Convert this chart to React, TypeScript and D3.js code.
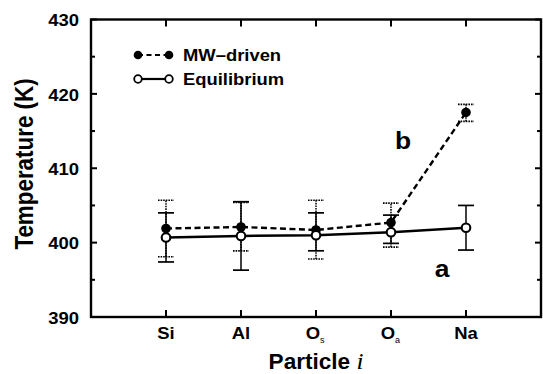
import React from "react";
import * as d3 from "d3";

const categories = ["Si", "Al", "O", "O", "Na"];
const catSubs = ["", "", "s", "a", ""];
const mwValues = [401.9, 402.1, 401.7, 402.7, 417.5];
const mwLow = [398.1, 398.9, 397.8, 399.4, 416.3];
const mwHigh = [405.7, 405.4, 405.7, 405.3, 418.6];
const eqValues = [400.7, 400.9, 401.0, 401.4, 402.0];
const eqLow = [397.4, 396.3, 398.9, 399.9, 399.0];
const eqHigh = [404.0, 405.5, 404.0, 403.7, 405.0];
const yMajor = [390, 400, 410, 420, 430];
const yMinor = [395, 405, 415, 425];

const W = 543;
const H = 374;
const FONT = "'Liberation Sans', Arial, Helvetica, sans-serif";

export default function App() {
  const x = d3.scaleLinear().domain([0, 6]).range([91, 541]);
  const y = d3.scaleLinear().domain([390, 430]).range([317, 19.5]);
  const pos = categories.map((_, i) => i + 1);

  const line = d3
    .line<number>()
    .x((_, i) => x(pos[i]))
    .y((d) => y(d));

  const capW = 8;

  const errBars = (lo: number[], hi: number[], dashed: boolean, key: string) =>
    lo.map((l, i) => {
      const cx = x(pos[i]);
      const da = dashed ? "1.6,1" : undefined;
      return (
        <g key={key + i} stroke="#000" fill="none">
          <line x1={cx} x2={cx} y1={y(l)} y2={y(hi[i])} strokeWidth={1.5} strokeDasharray={da} />
          <line x1={cx - capW} x2={cx + capW} y1={y(l)} y2={y(l)} strokeWidth={1.7} strokeDasharray={da} />
          <line x1={cx - capW} x2={cx + capW} y1={y(hi[i])} y2={y(hi[i])} strokeWidth={1.7} strokeDasharray={da} />
        </g>
      );
    });

  const left = x(0);
  const right = x(6);
  const top = y(430);
  const bottom = y(390);

  return (
    <svg
      width={W}
      height={H}
      style={{ position: "fixed", left: 0, top: 0, background: "#fff" }}
    >
      <rect x={0} y={0} width={W} height={H} fill="#fff" />
      {/* frame */}
      <rect x={left} y={top} width={right - left} height={bottom - top} fill="none" stroke="#000" strokeWidth={2.4} />
      {/* y ticks */}
      {yMajor.map((v) => (
        <g key={"ym" + v} stroke="#000" strokeWidth={2}>
          <line x1={left} x2={left + 6} y1={y(v)} y2={y(v)} />
          <line x1={right} x2={right - 6} y1={y(v)} y2={y(v)} />
        </g>
      ))}
      {yMinor.map((v) => (
        <g key={"yn" + v} stroke="#000" strokeWidth={2}>
          <line x1={left} x2={left + 4} y1={y(v)} y2={y(v)} />
          <line x1={right} x2={right - 4} y1={y(v)} y2={y(v)} />
        </g>
      ))}
      {yMajor.map((v) => (
        <text
          key={"yl" + v}
          transform={`translate(79,${y(v) + 1}) scale(1.12,1)`}
          textAnchor="end"
          dominantBaseline="central"
          fontFamily={FONT}
          fontWeight="bold"
          fontSize={16.5}
        >
          {v}
        </text>
      ))}
      {/* x ticks */}
      {pos.map((p) => (
        <g key={"xt" + p} stroke="#000" strokeWidth={2}>
          <line x1={x(p)} x2={x(p)} y1={top} y2={top + 7} />
          <line x1={x(p)} x2={x(p)} y1={bottom} y2={bottom - 7} />
        </g>
      ))}
      {categories.map((c, i) => (
        <g key={"xl" + i} transform={`translate(${x(pos[i])},339)`}>
          <text
            transform={catSubs[i] ? "translate(-3,0) scale(1.12,1)" : "scale(1.12,1)"}
            textAnchor="middle"
            fontFamily={FONT}
            fontWeight="bold"
            fontSize={16.5}
          >
            {c}
          </text>
          {catSubs[i] && (
            <text x={4} y={4} fontFamily={FONT} fontSize={9}>
              {catSubs[i]}
            </text>
          )}
        </g>
      ))}
      {/* axis titles */}
      <text
        transform="translate(316,369) scale(1.05,1)"
        textAnchor="middle"
        fontFamily={FONT}
        fontWeight="bold"
        fontSize={21.5}
      >
        Particle{" "}
        <tspan fontFamily="'Liberation Serif', 'Times New Roman', serif" fontStyle="italic" fontWeight="normal" fontSize={24}>
          i
        </tspan>
      </text>
      <text
        transform="translate(33,164) scale(1.15,1) rotate(-90)"
        textAnchor="middle"
        fontFamily={FONT}
        fontWeight="bold"
        fontSize={22.4}
      >
        Temperature (K)
      </text>
      {/* error bars */}
      {errBars(mwLow, mwHigh, true, "mw")}
      {errBars(eqLow, eqHigh, false, "eq")}
      {/* lines */}
      <path d={line(mwValues) || ""} fill="none" stroke="#000" strokeWidth={2.4} strokeDasharray="6,3.5" />
      <path d={line(eqValues) || ""} fill="none" stroke="#000" strokeWidth={2.5} />
      {/* markers */}
      {mwValues.map((v, i) => (
        <circle key={"mc" + i} cx={x(pos[i])} cy={y(v)} r={4.8} fill="#000" />
      ))}
      {eqValues.map((v, i) => (
        <circle key={"ec" + i} cx={x(pos[i])} cy={y(v)} r={4.3} fill="#fff" stroke="#000" strokeWidth={2.1} />
      ))}
      {/* legend */}
      <line x1={138} x2={169} y1={55} y2={55} stroke="#000" strokeWidth={2.2} strokeDasharray="5,3.5" />
      <circle cx={138} cy={55} r={4.3} fill="#000" />
      <circle cx={169} cy={55} r={4.3} fill="#000" />
      <text transform="translate(183,61) scale(1.15,1)" fontFamily={FONT} fontWeight="bold" fontSize={16}>
        MW–driven
      </text>
      <line x1={138} x2={169} y1={79} y2={79} stroke="#000" strokeWidth={2.2} />
      <circle cx={138} cy={79} r={3.8} fill="#fff" stroke="#000" strokeWidth={1.8} />
      <circle cx={169} cy={79} r={3.8} fill="#fff" stroke="#000" strokeWidth={1.8} />
      <text transform="translate(183,85) scale(1.15,1)" fontFamily={FONT} fontWeight="bold" fontSize={16}>
        Equilibrium
      </text>
      {/* annotations */}
      <text transform="translate(403,149) scale(1.1,1)" textAnchor="middle" fontFamily={FONT} fontWeight="bold" fontSize={24}>
        b
      </text>
      <text transform="translate(442,277) scale(1.1,1)" textAnchor="middle" fontFamily={FONT} fontWeight="bold" fontSize={24}>
        a
      </text>
    </svg>
  );
}
